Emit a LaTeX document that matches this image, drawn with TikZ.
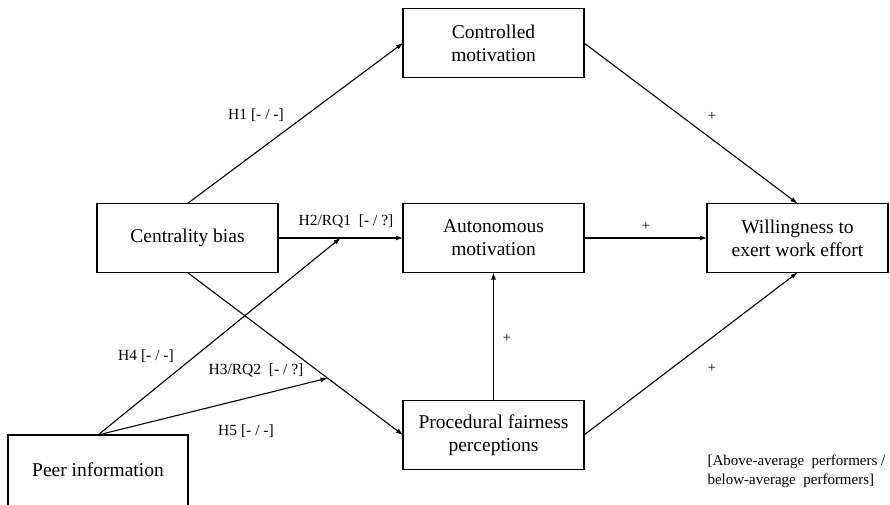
\documentclass[tikz,border=0pt]{standalone}
\usepackage{fontspec}
\setmainfont{Liberation Serif}
\usetikzlibrary{arrows.meta,positioning}
\tikzset{
    path label/.style = {
        font=\fontsize{15.5}{17}\selectfont,
        inner sep=1pt,
        },
    sign/.style = {
        font=\fontsize{14.5}{16}\selectfont,
        inner sep=1pt,
        },
    note/.style = {
        font=\fontsize{15}{19}\selectfont,
        inner sep=0pt,
        align=left,
        },
}
\begin{document}
\begin{tikzpicture}[
            x=1pt, y=-1pt,
            line width=1.1pt,
            -{Latex[length=7pt, width=5pt]},
            ConstructBox/.style={draw, rectangle, align=center,
                minimum width=181pt, minimum height=69pt, outer sep=0pt,
                font=\fontsize{19.5}{23}\selectfont},
            ]
            \useasboundingbox (0,0) rectangle (890,505);

            % constructs
            \node [ConstructBox] (controlled) at (493.5,43) {Controlled\\motivation};
            \node [ConstructBox] (centrality) at (187.5,238) {Centrality bias};
            \node [ConstructBox] (autonomous) at (493.5,238) {Autonomous\\motivation};
            \node [ConstructBox] (effort) at (797.5,238) {Willingness to\\exert work effort};
            \node [ConstructBox] (fairness) at (493.5,435) {Procedural fairness\\perceptions};
            \node [ConstructBox, minimum width=180pt, minimum height=80pt] (peer) at (98,475) {};
            \node [font=\fontsize{19.5}{23}\selectfont] (peertext) at (98,470) {Peer information};

            % main paths
            \draw (centrality.north) -- (controlled.west);
            \draw (centrality.east) -- coordinate[pos=0.5] (h2mid) (autonomous.west);
            \draw (centrality.south) -- coordinate[pos=0.65] (h3mid) (fairness.west);
            \draw (controlled.east) -- (effort.north);
            \draw (autonomous.east) -- (effort.west);
            \draw (fairness.east) -- (effort.south);
            \draw (fairness.north) -- (autonomous.south);

            % moderation by peer information
            \draw (peer.north) -- (h2mid);
            \draw (peer.north) -- (h3mid);

            % labels
            \node [path label] (h1) at (256,115) {H1 [- / -]};
            \node [path label] (h2) at (346,221) {H2/RQ1\ \ [- / ?]};
            \node [path label] (h3) at (256,370) {H3/RQ2\ \ [- / ?]};
            \node [path label] (h4) at (146,356) {H4 [- / -]};
            \node [path label] (h5) at (246,431) {H5 [- / -]};

            \node [sign] (s1) at (712,116) {+};
            \node [sign] (s2) at (646,226) {+};
            \node [sign] (s3) at (507,338) {+};
            \node [sign] (s4) at (712,368) {+};

            \node [note, anchor=north west] (remark) at (707,454)
                {[Above-average\ \ performers\ /\\below-average\ \ performers]};
        \end{tikzpicture}
\end{document}
